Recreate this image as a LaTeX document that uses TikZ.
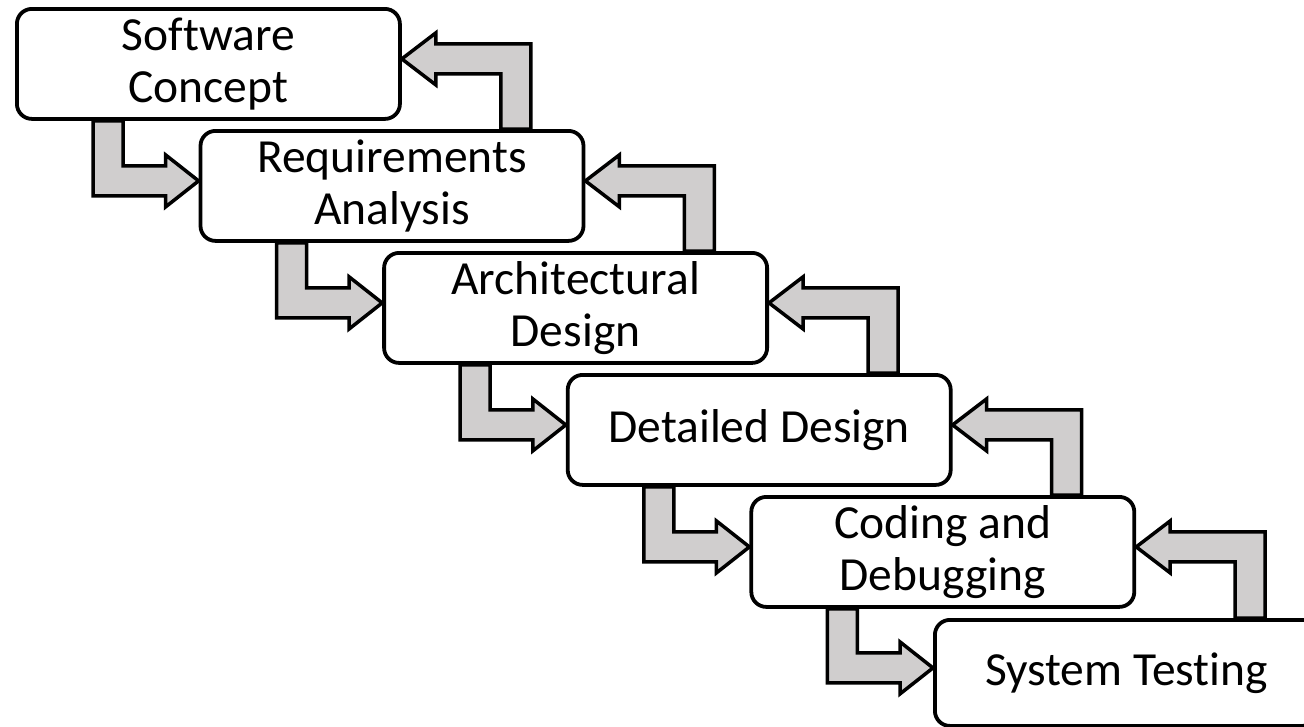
\documentclass[tikz,border=0pt]{standalone}
\usepackage{fontspec}
\setmainfont[Ligatures=NoCommon]{Carlito}
\usetikzlibrary{calc,backgrounds}

\definecolor{flowgray}{RGB}{208,206,206}

\tikzset{
  phase/.style={draw=black, line width=3.8pt, fill=white, rounded corners=15pt,
    minimum width=383pt, minimum height=110pt, inner sep=0pt, align=center,
    anchor=north west, font=\fontsize{47.5}{52}\selectfont},
  flow/.style={draw=black, line width=3.5pt, fill=flowgray, line join=miter},
}

% forward hand-off: down out of #1, then right into #2
\newcommand\fwdflow[2]{%
  \draw[flow] ($(#1.south west)+(78,0)$) |- ($(#2.west)+(-33,10)$)
    -- ($(#2.west)+(-33,21)$) -- ($(#2.west)+(0,-5)$) -- ($(#2.west)+(-33,-31)$)
    -- ($(#2.west)+(-33,-20)$) -| ($(#1.south west)+(108,0)$) -- cycle;}

% feedback: up out of #2, then left into #1
\newcommand\backflow[2]{%
  \coordinate (bfA) at ($(#1.east)+(99,0)$);
  \coordinate (bfB) at ($(#1.east)+(129,0)$);
  \draw[flow] (bfA |- #2.north) |- ($(#1.east)+(34,10)$)
    -- ($(#1.east)+(34,21)$) -- ($(#1.east)+(0,-5)$) -- ($(#1.east)+(34,-31)$)
    -- ($(#1.east)+(34,-20)$) -| (bfB |- #2.north) -- cycle;}

\begin{document}
\begin{tikzpicture}[x=1pt, y=-1pt]
  \useasboundingbox (0,0) rectangle (1304,726);
  \clip (0,0) rectangle (1304,726);

  \node[phase] (b1) at (15,7)        {Software\\Concept};
  \node[phase] (b2) at (198.6,129)   {Requirements\\Analysis};
  \node[phase] (b3) at (382.2,251)   {Architectural\\Design};
  \node[phase] (b4) at (565.8,373)   {Detailed Design};
  \node[phase] (b5) at (749.4,495)   {Coding and\\Debugging};
  \node[phase, minimum height=106pt] (b6) at (933,618) {System Testing};

  \begin{scope}[on background layer]
    \fwdflow{b1}{b2}
    \fwdflow{b2}{b3}
    \fwdflow{b3}{b4}
    \fwdflow{b4}{b5}
    \fwdflow{b5}{b6}
    \backflow{b1}{b2}
    \backflow{b2}{b3}
    \backflow{b3}{b4}
    \backflow{b4}{b5}
    \backflow{b5}{b6}
  \end{scope}
\end{tikzpicture}
\end{document}
